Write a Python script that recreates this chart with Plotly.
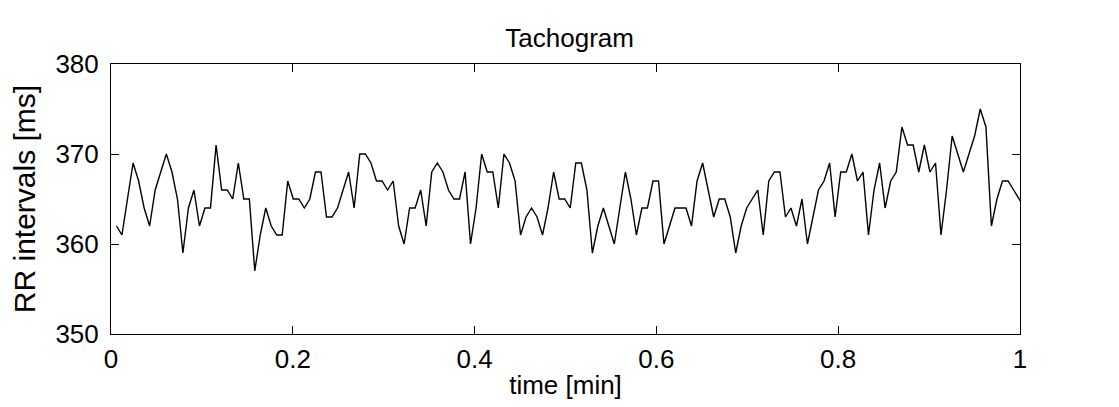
import numpy as np
import plotly.graph_objects as go

# RR intervals in ms, one per beat
rr_ms = [
    362, 361, 365, 369, 367, 364, 362, 366, 368, 370, 368, 365, 359, 364, 366, 362,
    364, 364, 371, 366, 366, 365, 369, 365, 365, 357, 361, 364, 362, 361, 361, 367,
    365, 365, 364, 365, 368, 368, 363, 363, 364, 366, 368, 364,
    370, 370, 369, 367, 367, 366, 367, 362, 360,
    364, 364, 366, 362, 368, 369, 368, 366, 365, 365, 368, 360, 364,
    370, 368, 368, 364, 370, 369, 367, 361, 363, 364, 363, 361, 364, 368,
    365, 365, 364, 369, 369, 366, 359, 362, 364, 362, 360, 364, 368, 365, 361,
    364, 364, 367, 367, 360, 362, 364, 364, 364, 362, 367, 369, 366, 363,
    365, 365, 363, 359, 362, 364, 365, 366, 361, 367, 368, 368, 363, 364, 362,
    365, 360, 363, 366, 367, 369, 363, 368, 368, 370, 367, 368, 361, 366, 369,
    364, 367, 368, 373, 371, 371, 368, 371, 368, 369, 361, 366, 372, 370, 368,
    370, 372, 375, 373, 362, 365, 367, 367, 366, 365, 364,
]

x_ticks = [0, 0.2, 0.4, 0.6, 0.8, 1]
x_tick_labels = ["0", "0.2", "0.4", "0.6", "0.8", "1"]
y_ticks = [350, 360, 370, 380]
y_tick_labels = ["350", "360", "370", "380"]

time_min = np.cumsum(rr_ms) / 60000.0

FONT = "Liberation Sans, Arial, sans-serif"
BLACK = "black"

fig = go.Figure()
fig.add_trace(go.Scatter(
    x=time_min, y=rr_ms, mode="lines",
    line=dict(color=BLACK, width=1.4),
    showlegend=False, hoverinfo="skip",
))

axis_common = dict(
    showline=True, linecolor=BLACK, linewidth=1,
    mirror="allticks", ticks="inside", ticklen=8, tickwidth=1, tickcolor=BLACK,
    showgrid=False, zeroline=False,
    tickfont=dict(family=FONT, size=26, color=BLACK),
)

# page body has an 8px margin; figure sized/offset so plot area lands at x 111..1020, y 64..334
fig.update_layout(
    width=1111, height=399,
    margin=dict(l=103, r=99, t=56, b=73),
    paper_bgcolor="white", plot_bgcolor="white",
    title=dict(text="Tachogram", x=0.5055, xanchor="center", y=0.925, yanchor="middle",
               font=dict(family=FONT, size=26, color=BLACK)),
    xaxis=dict(range=[0, 1], tickvals=x_ticks, ticktext=x_tick_labels,
               ticklabelstandoff=2,
               title=dict(text="time [min]", font=dict(family=FONT, size=26, color=BLACK), standoff=2),
               **axis_common),
    yaxis=dict(range=[350, 380], tickvals=y_ticks, ticktext=y_tick_labels,
               ticklabelstandoff=6,
               title=dict(text="RR intervals [ms]", font=dict(family=FONT, size=30, color=BLACK), standoff=14),
               **axis_common),
)

fig.write_html("out.html")
